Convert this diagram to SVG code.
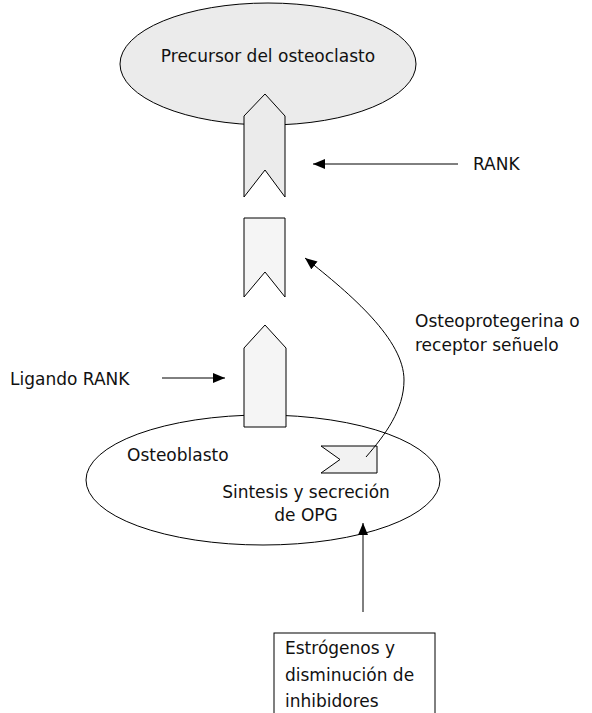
<svg xmlns="http://www.w3.org/2000/svg" width="592" height="713" viewBox="0 0 592 713">
<defs>
<marker id="ah" markerUnits="userSpaceOnUse" markerWidth="13" markerHeight="10" refX="12" refY="5" orient="auto">
<path d="M0,0 L12,5 L0,10 Z" fill="#000"/>
</marker>
<style>
text{font-family:"DejaVu Sans","Liberation Sans",sans-serif;font-size:17px;fill:#111}
.s{stroke:#000;stroke-width:1}
.c{fill:none;stroke:#000;stroke-width:1;marker-end:url(#ah)}
</style>
</defs>
<rect width="592" height="713" fill="#fff"/>
<g id="precursor">
<ellipse cx="268" cy="64" rx="148" ry="61" fill="#ebebeb" class="s"/>
<text x="268" y="62" text-anchor="middle">Precursor del osteoclasto</text>
</g>
<g id="osteoblasto">
<ellipse cx="263" cy="480" rx="177" ry="65" fill="#fff" class="s"/>
<text x="127" y="461">Osteoblasto</text>
<text x="306" y="498" text-anchor="middle">Sintesis y secreción</text>
<text x="306" y="521" text-anchor="middle">de OPG</text>
</g>
<g id="rank">
<polygon points="244,116 265,94 285,116 285,197 265,170 244,197" fill="#ebebeb" class="s"/>
</g>
<g id="opg-bound">
<polygon points="244,218 285,218 285,297 265,272 244,297" fill="#f5f5f5" class="s"/>
</g>
<g id="ligando">
<polygon points="244,348 265,325 286,348 286,427 244,427" fill="#f5f5f5" class="s"/>
</g>
<g id="opg-flag">
<polygon points="321,446 377,446 377,473 321,473 340,459.5" fill="#f2f2f2" class="s"/>
</g>
<g id="labels">
<text x="473" y="170">RANK</text>
<text x="10" y="385">Ligando RANK</text>
<text x="415" y="327">Osteoprotegerina o</text>
<text x="415" y="351">receptor señuelo</text>
</g>
<g id="estrogenos">
<rect x="274" y="633" width="161" height="100" fill="#fff" class="s"/>
<text x="285" y="654">Estrógenos y</text>
<text x="285" y="681">disminución de</text>
<text x="285" y="707">inhibidores</text>
</g>
<g id="connectors">
<line x1="458" y1="164" x2="313" y2="164" class="c"/>
<line x1="162" y1="378" x2="225" y2="378" class="c"/>
<line x1="363" y1="612" x2="363" y2="523" class="c"/>
<path d="M366,457 C385,435 404,410 404,380 C404,340 352,295 305,258" class="c"/>
</g>
</svg>
